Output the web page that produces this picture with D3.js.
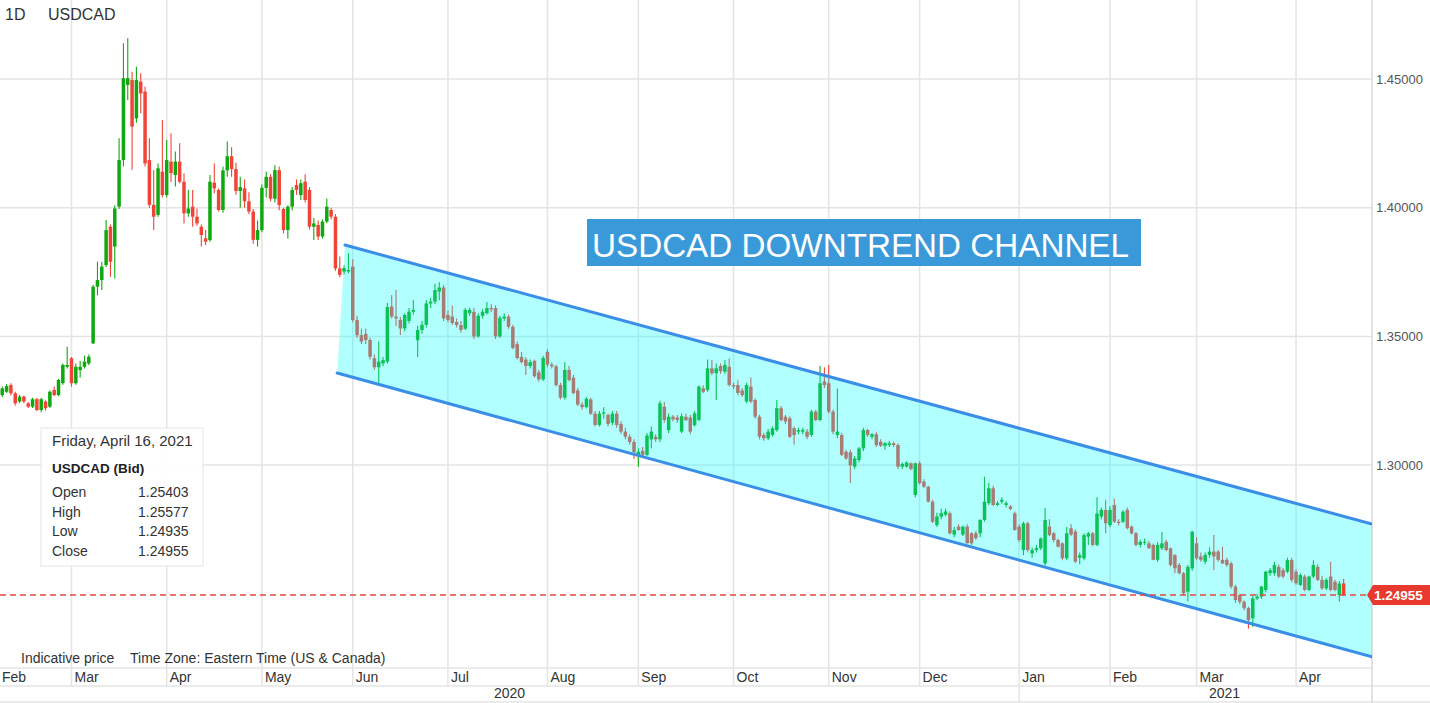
<!DOCTYPE html>
<html><head><meta charset="utf-8">
<script src="https://cdn.jsdelivr.net/npm/d3@7"></script>
<style>
html,body{margin:0;padding:0;background:#fff;}
svg{display:block;font-family:"Liberation Sans",Arial,Helvetica,sans-serif;}
</style></head><body>
<svg id="chart" width="1430" height="703"></svg>
<script>
// ---------------- DATA ----------------
const symbol = "USDCAD";
const interval = "1D";
const firstDate = [2020, 1, 6]; // first candle, daily weekday candles to 2021-04-16
const opens = [
// Feb 2020
1.3300,1.3272,1.3285,1.3311,1.3279,1.3247,1.3266,1.3240,1.3227,1.3256,1.3214,1.3247,1.3227,1.3292,1.3272,1.3318,1.3382,
// Mar 2020
1.3415,1.3318,1.3369,1.3382,1.3395,1.3473,1.3693,1.3719,1.3777,1.3926,1.3849,1.4004,1.4185,1.4477,1.4496,1.4347,1.4490,1.4451,1.4185,1.4011,1.3972,1.4140,
// Apr 2020
1.4049,1.4179,1.4127,1.4179,1.4101,1.3978,1.4004,1.3965,1.3926,1.3881,1.3874,1.4097,1.4069,1.3991,1.4145,1.4200,1.4150,1.4065,1.4075,1.4025,1.3985,1.3875,
// May 2020
1.3913,1.4077,1.4120,1.4035,1.4146,1.3995,1.3913,1.4004,1.4088,1.4049,1.4101,1.4069,1.3926,1.3933,1.3888,1.3946,1.3991,1.3965,1.3764,1.3752,1.3752,
// Jun 2020
1.3771,1.3564,1.3505,1.3510,1.3486,1.3415,1.3380,1.3395,1.3402,1.3616,1.3577,1.3564,1.3531,1.3560,1.3596,1.3485,1.3525,1.3545,1.3628,1.3635,1.3674,1.3690,
// Jul 2020
1.3583,1.3577,1.3556,1.3544,1.3530,1.3590,1.3595,1.3500,1.3580,1.3590,1.3610,1.3610,1.3500,1.3570,1.3577,1.3537,1.3470,1.3420,1.3410,1.3385,1.3405,1.3360,1.3333,
// Aug 2020
1.3440,1.3390,1.3384,1.3311,1.3262,1.3370,1.3340,1.3290,1.3235,1.3225,1.3255,1.3200,1.3156,1.3200,1.3195,1.3165,1.3200,1.3160,1.3130,1.3110,1.3090,
// Sep 2020
1.3040,1.3055,1.3040,1.3100,1.3110,1.3100,1.3227,1.3136,1.3188,1.3185,1.3130,1.3188,1.3185,1.3155,1.3175,1.3298,1.3292,1.3376,1.3357,1.3385,1.3363,1.3382,
// Oct 2020
1.3311,1.3311,1.3290,1.3247,1.3305,1.3253,1.3188,1.3117,1.3104,1.3117,1.3136,1.3221,1.3188,1.3182,1.3143,1.3130,1.3130,1.3130,1.3117,1.3208,1.3175,1.3325,
// Nov 2020
1.3318,1.3208,1.3117,1.3117,1.3052,1.3050,1.2994,1.3020,1.3065,1.3136,1.3110,1.3120,1.3091,1.3075,1.3078,1.3085,1.3078,1.2994,1.2994,1.3007,1.2884,
// Dec 2020
1.3007,1.2936,1.2916,1.2858,1.2767,1.2800,1.2807,1.2813,1.2730,1.2761,1.2730,1.2761,1.2735,1.2735,1.2735,1.2787,1.2852,1.2910,1.2845,1.2858,1.2845,1.2839,1.2813,
// Jan 2021
1.2761,1.2670,1.2774,1.2657,1.2670,1.2677,1.2618,1.2761,1.2735,1.2709,1.2696,1.2638,1.2755,1.2742,1.2640,1.2638,1.2722,1.2735,1.2690,1.2800,1.2826,
// Feb 2021
1.2767,1.2845,1.2780,1.2780,1.2826,1.2761,1.2735,1.2690,1.2698,1.2696,1.2690,1.2632,1.2677,1.2702,1.2677,1.2650,1.2612,1.2580,1.2508,1.2599,
// Mar 2021
1.2696,1.2645,1.2625,1.2651,1.2664,1.2664,1.2632,1.2632,1.2618,1.2528,1.2495,1.2469,1.2444,1.2405,1.2482,1.2489,1.2515,1.2580,1.2580,1.2605,1.2592,1.2586,1.2631,
// Apr 2021
1.2586,1.2534,1.2567,1.2515,1.2567,1.2605,1.2554,1.2521,1.2567,1.2547,1.2495,1.25403
];
const highs = [
1.3310,1.3305,1.3315,1.3318,1.3285,1.3272,1.3270,1.3245,1.3262,1.3262,1.3262,1.3252,1.3290,1.3305,1.3335,1.3395,1.3460,
1.3420,1.3395,1.3405,1.3425,1.3430,1.3700,1.3790,1.3790,1.3952,1.3935,1.4010,1.4270,1.4639,1.4658,1.4528,1.4548,1.4522,1.4470,1.4270,1.4146,1.4172,1.4341,
1.4263,1.4289,1.4218,1.4250,1.4134,1.4069,1.4069,1.3997,1.3935,1.3913,1.4127,1.4172,1.4075,1.4160,1.4257,1.4235,1.4175,1.4120,1.4110,1.4060,1.3995,1.3950,
1.4090,1.4140,1.4130,1.4165,1.4160,1.4000,1.4010,1.4080,1.4110,1.4110,1.4130,1.4080,1.3960,1.3950,1.3955,1.4036,1.4000,1.3975,1.3810,1.3775,1.3823,
1.3800,1.3580,1.3530,1.3530,1.3495,1.3430,1.3480,1.3420,1.3630,1.3661,1.3680,1.3575,1.3590,1.3610,1.3640,1.3540,1.3560,1.3640,1.3650,1.3705,1.3710,1.3700,
1.3600,1.3620,1.3570,1.3560,1.3610,1.3612,1.3610,1.3590,1.3605,1.3634,1.3625,1.3620,1.3580,1.3590,1.3585,1.3545,1.3480,1.3440,1.3420,1.3410,1.3410,1.3370,1.3425,
1.3450,1.3400,1.3390,1.3320,1.3400,1.3385,1.3350,1.3300,1.3245,1.3265,1.3262,1.3210,1.3210,1.3225,1.3200,1.3210,1.3210,1.3170,1.3145,1.3120,1.3100,
1.3065,1.3070,1.3125,1.3150,1.3120,1.3250,1.3245,1.3200,1.3195,1.3195,1.3200,1.3200,1.3195,1.3210,1.3310,1.3310,1.3410,1.3408,1.3395,1.3395,1.3408,1.3415,
1.3320,1.3330,1.3300,1.3320,1.3340,1.3260,1.3195,1.3125,1.3140,1.3150,1.3253,1.3230,1.3195,1.3190,1.3150,1.3145,1.3145,1.3140,1.3215,1.3215,1.3385,1.3380,
1.3390,1.3215,1.3298,1.3125,1.3060,1.3060,1.3035,1.3070,1.3145,1.3140,1.3125,1.3130,1.3100,1.3090,1.3095,1.3090,1.3085,1.3010,1.3015,1.3010,1.3010,
1.3015,1.2945,1.2920,1.2865,1.2815,1.2830,1.2830,1.2820,1.2760,1.2770,1.2765,1.2770,1.2740,1.2745,1.2790,1.2955,1.2930,1.2920,1.2860,1.2875,1.2860,1.2845,1.2820,
1.2770,1.2780,1.2780,1.2680,1.2690,1.2720,1.2833,1.2790,1.2740,1.2715,1.2700,1.2760,1.2770,1.2750,1.2660,1.2735,1.2740,1.2740,1.2875,1.2835,1.2865,
1.2840,1.2870,1.2790,1.2825,1.2835,1.2765,1.2740,1.2710,1.2715,1.2705,1.2695,1.2700,1.2740,1.2710,1.2680,1.2655,1.2620,1.2585,1.2612,1.2745,
1.2720,1.2660,1.2660,1.2680,1.2728,1.2670,1.2683,1.2640,1.2625,1.2535,1.2500,1.2475,1.2450,1.2490,1.2500,1.2530,1.2590,1.2600,1.2625,1.2615,1.2600,1.2640,1.2640,
1.2595,1.2580,1.2575,1.2570,1.2630,1.2615,1.2570,1.2560,1.2625,1.2555,1.2550,1.25577
];
const lows = [
1.3275,1.3265,1.3280,1.3270,1.3232,1.3240,1.3240,1.3222,1.3222,1.3210,1.3205,1.3212,1.3222,1.3268,1.3268,1.3312,1.3375,
1.3305,1.3312,1.3340,1.3375,1.3388,1.3470,1.3660,1.3680,1.3770,1.3732,1.3725,1.3995,1.4160,1.4418,1.4147,1.4330,1.4367,1.4160,1.4000,1.3913,1.3965,1.4040,
1.4040,1.4100,1.4082,1.4095,1.3939,1.3965,1.3926,1.3930,1.3849,1.3855,1.3868,1.4056,1.3985,1.3980,1.4120,1.4120,1.4050,1.4000,1.4000,1.3975,1.3860,1.3849,
1.3905,1.4040,1.4025,1.4020,1.3990,1.3900,1.3880,1.3990,1.4050,1.4030,1.4020,1.3915,1.3875,1.3875,1.3880,1.3940,1.3955,1.3755,1.3730,1.3740,1.3745,
1.3555,1.3495,1.3470,1.3470,1.3410,1.3370,1.3318,1.3385,1.3395,1.3570,1.3540,1.3505,1.3520,1.3550,1.3585,1.3420,1.3510,1.3535,1.3610,1.3625,1.3640,1.3560,
1.3555,1.3545,1.3535,1.3515,1.3525,1.3580,1.3490,1.3495,1.3570,1.3585,1.3595,1.3490,1.3495,1.3560,1.3530,1.3450,1.3410,1.3395,1.3350,1.3375,1.3340,1.3325,1.3327,
1.3380,1.3375,1.3305,1.3255,1.3255,1.3325,1.3275,1.3230,1.3215,1.3220,1.3195,1.3150,1.3150,1.3180,1.3150,1.3155,1.3145,1.3120,1.3100,1.3080,1.3025,
1.2994,1.3030,1.3035,1.3065,1.3090,1.3090,1.3165,1.3125,1.3170,1.3165,1.3125,1.3170,1.3120,1.3150,1.3170,1.3280,1.3285,1.3350,1.3253,1.3355,1.3355,1.3305,
1.3295,1.3270,1.3265,1.3240,1.3240,1.3180,1.3100,1.3095,1.3097,1.3110,1.3130,1.3170,1.3160,1.3105,1.3080,1.3120,1.3120,1.3100,1.3110,1.3170,1.3170,1.3300,
1.3200,1.3120,1.3105,1.3035,1.3020,1.2930,1.2985,1.3010,1.3055,1.3110,1.3100,1.3070,1.3070,1.3060,1.3070,1.3070,1.2985,1.2985,1.2990,1.2980,1.2875,
1.2925,1.2910,1.2855,1.2775,1.2760,1.2790,1.2800,1.2730,1.2720,1.2745,1.2725,1.2695,1.2690,1.2710,1.2720,1.2780,1.2845,1.2840,1.2840,1.2850,1.2835,1.2825,1.2745,
1.2700,1.2650,1.2660,1.2640,1.2660,1.2670,1.2610,1.2725,1.2700,1.2680,1.2630,1.2630,1.2725,1.2620,1.2615,1.2630,1.2690,1.2685,1.2685,1.2790,1.2735,
1.2760,1.2775,1.2765,1.2775,1.2750,1.2730,1.2685,1.2680,1.2690,1.2675,1.2630,1.2625,1.2670,1.2665,1.2605,1.2580,1.2575,1.2495,1.2470,1.2590,
1.2630,1.2625,1.2615,1.2640,1.2592,1.2625,1.2615,1.2605,1.2520,1.2465,1.2460,1.2435,1.2365,1.2372,1.2475,1.2480,1.2505,1.2570,1.2570,1.2560,1.2560,1.2580,1.2545,
1.2535,1.2530,1.2510,1.2510,1.2560,1.2550,1.2515,1.2515,1.2510,1.2510,1.2470,1.24935
];
const closes = [
1.3285,1.3298,1.3307,1.3279,1.3240,1.3266,1.3247,1.3227,1.3256,1.3214,1.3256,1.3221,1.3285,1.3272,1.3331,1.3389,1.3389,
1.3318,1.3382,1.3382,1.3402,1.3421,1.3693,1.3719,1.3771,1.3913,1.3790,1.3997,1.4185,1.4503,1.4503,1.4315,1.4496,1.4444,1.4172,1.4011,1.3965,1.4153,1.4049,
1.4185,1.4134,1.4179,1.4101,1.3978,1.3997,1.3965,1.3939,1.3894,1.3868,1.4101,1.4075,1.3991,1.4145,1.4200,1.4150,1.4065,1.4080,1.4025,1.3985,1.3875,1.3913,
1.4077,1.4120,1.4035,1.4146,1.4010,1.3913,1.4004,1.4069,1.4069,1.4095,1.4030,1.3926,1.3939,1.3888,1.3946,1.4004,1.3965,1.3764,1.3739,1.3765,1.3758,
1.3564,1.3505,1.3480,1.3486,1.3421,1.3380,1.3402,1.3408,1.3614,1.3577,1.3570,1.3531,1.3583,1.3596,1.3603,1.3525,1.3545,1.3628,1.3635,1.3680,1.3690,1.3570,
1.3564,1.3552,1.3544,1.3525,1.3603,1.3603,1.3500,1.3580,1.3596,1.3610,1.3605,1.3500,1.3572,1.3577,1.3537,1.3455,1.3416,1.3400,1.3385,1.3400,1.3345,1.3333,1.3416,
1.3390,1.3384,1.3311,1.3262,1.3370,1.3330,1.3280,1.3235,1.3225,1.3258,1.3200,1.3156,1.3200,1.3205,1.3160,1.3200,1.3156,1.3130,1.3110,1.3090,1.3050,
1.3052,1.3040,1.3115,1.3130,1.3100,1.3240,1.3175,1.3188,1.3178,1.3175,1.3190,1.3175,1.3130,1.3201,1.3305,1.3285,1.3376,1.3357,1.3376,1.3365,1.3389,1.3311,
1.3305,1.3280,1.3272,1.3311,1.3247,1.3188,1.3110,1.3104,1.3130,1.3143,1.3221,1.3175,1.3169,1.3110,1.3117,1.3136,1.3136,1.3110,1.3208,1.3175,1.3318,1.3311,
1.3208,1.3130,1.3130,1.3040,1.3026,1.2999,1.3026,1.3065,1.3136,1.3117,1.3120,1.3078,1.3075,1.3085,1.3085,1.3078,1.2994,1.3005,1.3010,1.2985,1.3007,
1.2930,1.2916,1.2858,1.2780,1.2800,1.2813,1.2820,1.2735,1.2748,1.2748,1.2761,1.2696,1.2696,1.2716,1.2787,1.2858,1.2910,1.2845,1.2852,1.2865,1.2852,1.2830,1.2748,
1.2709,1.2774,1.2670,1.2670,1.2677,1.2715,1.2787,1.2728,1.2709,1.2683,1.2638,1.2735,1.2730,1.2625,1.2650,1.2728,1.2735,1.2690,1.2812,1.2826,1.2774,
1.2826,1.2780,1.2775,1.2819,1.2755,1.2735,1.2690,1.2702,1.2702,1.2677,1.2632,1.2690,1.2696,1.2670,1.2612,1.2599,1.2580,1.2502,1.2605,1.2741,
1.2638,1.2632,1.2651,1.2664,1.2645,1.2632,1.2618,1.2612,1.2528,1.2476,1.2469,1.2444,1.2398,1.2482,1.2489,1.2528,1.2586,1.2592,1.2612,1.2567,1.2567,1.2631,1.2554,
1.2541,1.2573,1.2515,1.2567,1.2612,1.2554,1.2521,1.2554,1.2515,1.2515,1.2540,1.24955
];
const priceTicks = [1.30, 1.35, 1.40, 1.45];
const monthNames = ["Jan","Feb","Mar","Apr","May","Jun","Jul","Aug","Sep","Oct","Nov","Dec"];
const lastPrice = 1.24955;
// channel lines as [candle index, price]
const channelUpper = [[80.2, 1.3855], [317.55, 1.2771]];
const channelLower = [[78.4, 1.3358], [317.55, 1.2255]];
const annotation = "USDCAD DOWNTREND CHANNEL";
const tipDate = "Friday, April 16, 2021";
const tipName = "USDCAD (Bid)";
const tipLabels = ["Open", "High", "Low", "Close"];
const tipValues = ["1.25403", "1.25577", "1.24935", "1.24955"];
const footerTexts = ["Indicative price", "Time Zone: Eastern Time (US & Canada)"];

// ---------------- CHART ----------------
const N = closes.length;
if (opens.length !== N || highs.length !== N || lows.length !== N)
  throw new Error("length mismatch " + [opens.length, highs.length, lows.length, N]);

const W = 1430, H = 703, plotR = 1372, plotB = 668, monthB = 686;
const GREEN = "#10a810", RED = "#f04438", GRID = "#e4e4e4";

const dates = [];
let cur = new Date(Date.UTC(firstDate[0], firstDate[1], firstDate[2]));
while (dates.length < N) {
  const wd = cur.getUTCDay();
  if (wd !== 0 && wd !== 6) dates.push(new Date(cur));
  cur = new Date(cur.getTime() + 86400000);
}
const candles = d3.range(N).map(i => ({i, date: dates[i], o: opens[i], h: highs[i], l: lows[i], c: closes[i]}));

const x = d3.scaleLinear().domain([0.476, 317.55]).range([0, plotR]);
const y = d3.scaleLinear().domain([1.2, 1.5]).range([722.5, -49.7]);

const svg = d3.select("#chart");
svg.append("rect").attr("width", W).attr("height", H).attr("fill", "#fff");
svg.append("defs").append("clipPath").attr("id", "plotclip")
  .append("rect").attr("x", 0).attr("y", 0).attr("width", plotR).attr("height", plotB);

// month boundaries
const monthStarts = candles.filter((d, k) => k === 0 || d.date.getUTCMonth() !== candles[k - 1].date.getUTCMonth());

// grid
const grid = svg.append("g");
grid.selectAll("line.h").data(priceTicks).join("line")
  .attr("x1", 0).attr("x2", plotR).attr("y1", d => y(d)).attr("y2", d => y(d))
  .attr("stroke", GRID).attr("stroke-width", 1.5);
grid.selectAll("line.v").data(monthStarts.slice(1)).join("line")
  .attr("x1", d => x(d.i)).attr("x2", d => x(d.i)).attr("y1", 0).attr("y2", monthB)
  .attr("stroke", GRID).attr("stroke-width", 1.5);
// axis rows
grid.append("line").attr("x1", 0).attr("x2", plotR).attr("y1", plotB).attr("y2", plotB).attr("stroke", GRID).attr("stroke-width", 1.5);
grid.append("line").attr("x1", 0).attr("x2", W).attr("y1", monthB).attr("y2", monthB).attr("stroke", GRID).attr("stroke-width", 1.5);
grid.append("line").attr("x1", 0).attr("x2", W).attr("y1", H - 1).attr("y2", H - 1).attr("stroke", GRID).attr("stroke-width", 1.5);
grid.append("line").attr("x1", plotR).attr("x2", plotR).attr("y1", 0).attr("y2", H).attr("stroke", "#d8d8d8").attr("stroke-width", 1.5);

// year separators
const yearStarts = monthStarts.filter((d, k) => k === 0 || d.date.getUTCFullYear() !== monthStarts[k - 1].date.getUTCFullYear());
yearStarts.slice(1).forEach(d => {
  grid.append("line").attr("x1", x(d.i)).attr("x2", x(d.i)).attr("y1", monthB).attr("y2", H)
    .attr("stroke", GRID).attr("stroke-width", 1.5);
});

const plot = svg.append("g").attr("clip-path", "url(#plotclip)");
const bodyW = 3.5;
function drawCandles(g, data) {
  const cg = g.selectAll("g.c").data(data).join("g");
  cg.append("line")
    .attr("x1", d => x(d.i)).attr("x2", d => x(d.i))
    .attr("y1", d => y(d.h)).attr("y2", d => y(d.l))
    .attr("stroke", d => d.c >= d.o ? GREEN : RED).attr("stroke-width", 1.1);
  cg.append("rect")
    .attr("x", d => x(d.i) - bodyW / 2)
    .attr("y", d => y(Math.max(d.o, d.c)))
    .attr("width", bodyW)
    .attr("height", d => Math.max(1, Math.abs(y(d.o) - y(d.c))))
    .attr("fill", d => d.c >= d.o ? GREEN : RED);
}
drawCandles(plot.append("g"), candles.slice(0, N - 1));

// channel fill over candles
const poly = [channelLower[0], channelUpper[0], channelUpper[1], channelLower[1]];
plot.append("path")
  .attr("d", "M" + poly.map(p => [x(p[0]), y(p[1])].join(",")).join("L") + "Z")
  .attr("fill", "rgba(0,255,255,0.30)");
[channelUpper, channelLower].forEach(ln => {
  plot.append("line")
    .attr("x1", x(ln[0][0])).attr("y1", y(ln[0][1]))
    .attr("x2", x(ln[1][0])).attr("y2", y(ln[1][1]))
    .attr("stroke", "#3a8ee6").attr("stroke-width", 3).attr("stroke-linecap", "round");
});
// highlighted last candle
drawCandles(plot.append("g"), candles.slice(N - 1));

// last price dashed line
plot.append("line").attr("x1", 0).attr("x2", plotR).attr("y1", y(lastPrice)).attr("y2", y(lastPrice))
  .attr("stroke", "#e5483c").attr("stroke-width", 1.5).attr("stroke-dasharray", "6,4");

// price axis labels
svg.selectAll("text.pt").data(priceTicks).join("text")
  .attr("x", plotR + 4).attr("y", d => y(d)).attr("dy", "0.35em")
  .attr("font-size", 13).attr("fill", "#555").text(d => d.toFixed(5));
// last price tag
const ty = y(lastPrice);
svg.append("path")
  .attr("d", `M${plotR - 5},${ty} L${plotR + 1},${ty - 10} L${W},${ty - 10} L${W},${ty + 10} L${plotR + 1},${ty + 10} Z`)
  .attr("fill", "#e8392e");
svg.append("text").attr("x", plotR + 2).attr("y", ty).attr("dy", "0.36em")
  .attr("font-size", 13.5).attr("font-weight", "bold").attr("fill", "#fff").text(lastPrice.toFixed(5));

// month labels
svg.selectAll("text.m").data(monthStarts).join("text")
  .attr("x", (d, k) => k === 0 ? 2 : x(d.i) + 3).attr("y", 682)
  .attr("font-size", 14).attr("fill", "#333").text(d => monthNames[d.date.getUTCMonth()]);
// year labels
const yearBounds = yearStarts.map((d, k) => [k === 0 ? 0 : x(d.i), k < yearStarts.length - 1 ? x(yearStarts[k + 1].i) : W]);
svg.selectAll("text.yr").data(yearStarts).join("text")
  .attr("x", (d, k) => (yearBounds[k][0] + yearBounds[k][1]) / 2).attr("y", 698)
  .attr("text-anchor", "middle").attr("font-size", 14).attr("fill", "#333")
  .text(d => d.date.getUTCFullYear());

// header
svg.append("text").attr("x", 5).attr("y", 20).attr("font-size", 16).attr("fill", "#333").text(interval);
svg.append("text").attr("x", 48).attr("y", 20).attr("font-size", 16).attr("fill", "#333").text(symbol);

// footer notes
svg.append("text").attr("x", 21).attr("y", 663).attr("font-size", 14).attr("fill", "#333").text(footerTexts[0]);
svg.append("text").attr("x", 130).attr("y", 663).attr("font-size", 14).attr("fill", "#333").text(footerTexts[1]);

// annotation box
svg.append("rect").attr("x", 587).attr("y", 219).attr("width", 554).attr("height", 47).attr("fill", "#3a9ad9");
svg.append("text").attr("x", 592).attr("y", 257).attr("font-size", 34).attr("fill", "#fff")
  .attr("textLength", 537).attr("lengthAdjust", "spacingAndGlyphs").text(annotation);

// tooltip
const tip = svg.append("g");
tip.append("rect").attr("x", 41).attr("y", 428).attr("width", 162).attr("height", 138)
  .attr("fill", "#fff").attr("fill-opacity", 0.92).attr("stroke", "#e6e6e6");
tip.append("text").attr("x", 52).attr("y", 446).attr("font-size", 15).attr("fill", "#333").text(tipDate);
tip.append("text").attr("x", 52).attr("y", 473).attr("font-size", 13.5).attr("font-weight", "bold").attr("fill", "#222").text(tipName);
tipLabels.forEach((lab, k) => {
  tip.append("text").attr("x", 52).attr("y", 497 + k * 19.5).attr("font-size", 14).attr("fill", "#333").text(lab);
  tip.append("text").attr("x", 138).attr("y", 497 + k * 19.5).attr("font-size", 14).attr("fill", "#333").text(tipValues[k]);
});
</script>
</body></html>
